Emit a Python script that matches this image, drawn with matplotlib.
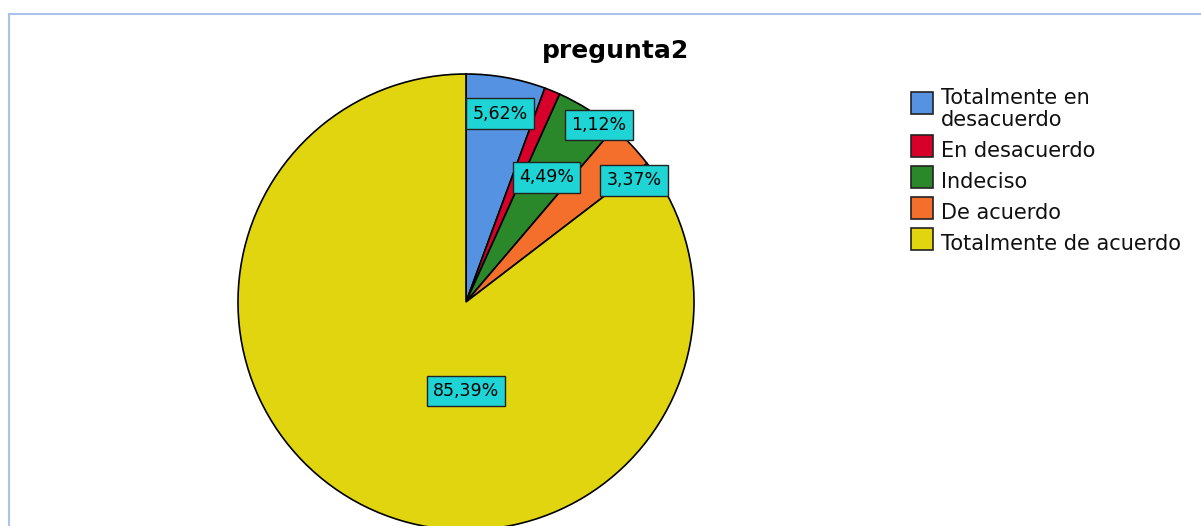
import textwrap
import matplotlib
matplotlib.use("Agg")
import matplotlib.pyplot as plt
import matplotlib.transforms as mtransforms
from matplotlib.patches import Rectangle
from matplotlib.lines import Line2D
import numpy as np

# data
title = "pregunta2"
categories = [
    "Totalmente en desacuerdo",
    "En desacuerdo",
    "Indeciso",
    "De acuerdo",
    "Totalmente de acuerdo",
]
percents = [5.62, 1.12, 4.49, 3.37, 85.39]
colors = ["#5593e2", "#d7002a", "#2a872a", "#f36f2b", "#e1d50f"]

# label layout: (angle clockwise from top in degrees, radius fraction)
label_layout = [(10.3, 0.84), (36.9, 0.97), (32.8, 0.65), (54.1, 0.91), (180.0, 0.39)]

W, H = 1201, 526
fig = plt.figure(figsize=(W / 100, H / 100), dpi=100)
# pixel coords measured from the top-left corner
px = mtransforms.Affine2D().scale(1 / W, -1 / H).translate(0, 1) + fig.transFigure

# light blue frame (left and top edges)
frame_col = "#aac4e9"
fig.add_artist(Line2D([9, W], [14, 14], transform=px, color=frame_col, lw=1.5))
fig.add_artist(Line2D([9, 9], [14, H], transform=px, color=frame_col, lw=1.5))

# pie axes: center (466, 302), radius 228 px
cx, cy, R = 466, 302, 228
ax = fig.add_axes([(cx - R) / W, (H - cy - R) / H, 2 * R / W, 2 * R / H])
ax.pie(
    percents,
    colors=colors,
    startangle=90,
    counterclock=False,
    radius=1,
    wedgeprops=dict(edgecolor="black", linewidth=1.2),
)
ax.set_xlim(-1, 1)
ax.set_ylim(-1, 1)
ax.set_aspect("equal")
ax.axis("off")

for p, (ang, r) in zip(percents, label_layout):
    t = np.deg2rad(ang)
    ax.text(
        r * np.sin(t),
        r * np.cos(t),
        f"{p:.2f}%".replace(".", ","),
        ha="center",
        va="center",
        fontsize=12.5,
        color="black",
        bbox=dict(boxstyle="square,pad=0.36", fc="#1fd4d4", ec="#222222", lw=1.0),
    )

fig.text(616, 58, title, transform=px, ha="center", va="baseline",
         fontsize=18, fontweight="bold")

# legend drawn by hand
top = 92
for name, col in zip(categories, colors):
    lines = textwrap.fill(name, 21).split("\n")
    fig.add_artist(Rectangle((911, top + 22), 22, -22, transform=px,
                             fc=col, ec="#222222", lw=1.2))
    base = top + 22 - (len(lines) - 1) * 10
    for k, ln in enumerate(lines):
        fig.text(941, base + k * 21.5, ln, transform=px, ha="left",
                 va="baseline", fontsize=15, color="#111111")
    top += 31 + (len(lines) - 1) * 12

fig.savefig("out.png", dpi=100)
